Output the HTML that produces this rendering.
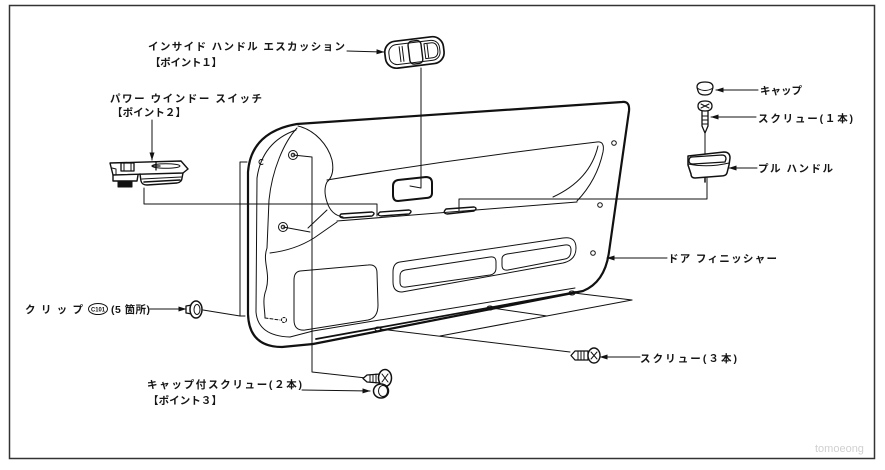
<!DOCTYPE html>
<html><head><meta charset="utf-8"><style>
html,body{margin:0;padding:0;background:#fff;}
svg{display:block;}
text{font-family:"Liberation Sans","Noto Sans CJK JP",sans-serif;font-size:10.5px;font-weight:700;fill:#151515;}
</style></head><body>
<svg width="885" height="470" viewBox="0 0 885 470" xmlns="http://www.w3.org/2000/svg">
<defs>
<marker id="a" markerWidth="8" markerHeight="6" refX="7.5" refY="3" orient="auto" markerUnits="userSpaceOnUse"><path d="M0,0.5 L8,3 L0,5.5 Z" fill="#111"/></marker>
</defs>
<rect width="885" height="470" fill="#fff"/>
<rect x="9.5" y="5.5" width="865" height="453" fill="none" stroke="#333" stroke-width="1.5"/>

<!-- labels -->
<text x="148" y="50" textLength="197" lengthAdjust="spacing">インサイド ハンドル エスカッション</text>
<text x="150" y="66" textLength="72" lengthAdjust="spacing">【ポイント１】</text>
<text x="110" y="102" textLength="152" lengthAdjust="spacing">パワー ウインドー スイッチ</text>
<text x="112" y="116" textLength="74" lengthAdjust="spacing">【ポイント２】</text>
<text x="25" y="313" textLength="58" lengthAdjust="spacing">クリップ</text>
<ellipse cx="98" cy="309" rx="9.5" ry="5.5" fill="none" stroke="#111" stroke-width="1"/>
<text x="91" y="311.5" textLength="14" lengthAdjust="spacingAndGlyphs" style="font-size:6px">C101</text>
<text x="111" y="313" textLength="39" lengthAdjust="spacing">(5 箇所)</text>
<text x="147" y="388" textLength="155" lengthAdjust="spacing">キャップ付スクリュー(２本)</text>
<text x="148" y="404" textLength="74" lengthAdjust="spacing">【ポイント３】</text>
<text x="760" y="94" textLength="42" lengthAdjust="spacing">キャップ</text>
<text x="758" y="122" textLength="95" lengthAdjust="spacing">スクリュー(１本)</text>
<text x="758" y="172" textLength="75" lengthAdjust="spacing">プル ハンドル</text>
<text x="668" y="262" textLength="109" lengthAdjust="spacing">ドア フィニッシャー</text>
<text x="640" y="362" textLength="97" lengthAdjust="spacing">スクリュー(３本)</text>
<text x="815" y="452" style="font-size:11px;font-weight:400;fill:#d0d0d0">tomoeong</text>

<g fill="none" stroke="#111" stroke-width="1" stroke-linejoin="round" stroke-linecap="round">
<!-- arrows -->
<line x1="347" y1="51" x2="384" y2="52" marker-end="url(#a)"/>
<line x1="152" y1="120" x2="152" y2="160" marker-end="url(#a)"/>
<line x1="150" y1="309" x2="186" y2="309" marker-end="url(#a)"/>
<line x1="302" y1="390" x2="370" y2="391" marker-end="url(#a)"/>
<line x1="758" y1="90" x2="716" y2="90" marker-end="url(#a)"/>
<line x1="756" y1="117" x2="711" y2="117" marker-end="url(#a)"/>
<line x1="757" y1="168" x2="729" y2="168" marker-end="url(#a)"/>
<line x1="667" y1="258" x2="607" y2="258" marker-end="url(#a)"/>
<line x1="640" y1="357" x2="600" y2="357" marker-end="url(#a)"/>

<!-- connectors -->
<path d="M421,68 L421,188 L410,186"/>
<path d="M144,188 L144,204 L377,204 L377,216"/>
<path d="M707,178 L707,199 L459,199 L459,211"/>
<path d="M705,132 L705,156"/>
<path d="M293,155 L312,157 L312,372 L366,378"/>
<path d="M283,227 L310,232"/>
<path d="M203,310 L240,316"/>
<path d="M247,162 L240,162 L240,316 L245,316"/>
<!-- phantom lines at bottom -->
<path d="M380,329 L570,352"/>
<path d="M440,336 L632,300"/>
<path d="M492,308 L547,316"/>
<path d="M574,293 L632,300"/>

<!-- door outer outline -->
<path stroke-width="2.2" d="M297,124 L622,102 Q630,101 629,111 L609,252 Q605,282 583,291 L313,344 L282,347 Q249,347 248,314 L248,172 Q251,132 297,124 Z"/>
<!-- inner thin bottom line -->
<path d="M313,331 L575,288"/>
<path stroke-width="1.8" d="M316,339 L576,292"/>
<!-- inner contour left -->
<path d="M296,130 Q262,142 257,178 L256,312 Q258,336 290,337 L313,331"/>
<!-- pillar left -->
<path d="M297,128 C284,142 272,170 269,200 L267,248 C262,262 271,272 266,290 C262,300 265,310 265,318"/>
<path d="M265,318 L280,320" stroke-dasharray="3,2"/>
<circle cx="284" cy="320" r="2.5" stroke-dasharray="2,1.5"/>
<!-- pillar right / armrest front -->
<path d="M298,126 C315,130 328,145 332,160 Q335,175 327,182 Q323,190 327,202 Q331,215 343,217"/>
<path d="M327,210 L308,228"/>
<path d="M337,222 L314,238 Q295,250 270,253"/>
<!-- armrest top line -->
<path d="M327,180 Q460,158 597,142"/>
<!-- pocket curves right -->
<path d="M597,142 Q605,141 603,152 Q597,180 577,201"/>
<path d="M598,146 Q590,180 553,197"/>
<!-- armrest bottom line -->
<path d="M337,221 L577,202"/>
<!-- slots -->
<path stroke-width="1.4" d="M341,214 L372,212 Q376,213 372,216 L343,218 Q338,217 341,214 Z"/>
<path stroke-width="1.4" d="M380,212 L409,210 Q413,211 409,214 L381,216 Q376,215 380,212 Z"/>
<path stroke-width="1.4" d="M446,209 L474,207 Q478,208 474,211 L447,214 Q442,213 446,209 Z"/>
<!-- inside handle recess -->
<path stroke-width="2" d="M398,180 L426,177 Q432,177 432,183 L432,193 Q432,198 426,198 L398,201 Q393,201 393,195 L393,186 Q393,181 398,180 Z"/>
<!-- holes -->
<circle cx="293" cy="155" r="4.5"/><circle cx="293" cy="155" r="1.8"/>
<circle cx="283" cy="227" r="4.5"/><circle cx="283" cy="227" r="1.8"/>
<path d="M263,160 A2.5,2.5 0 1 0 263,164"/>
<circle cx="614" cy="143" r="2.3"/>
<circle cx="600" cy="205" r="2.3"/>
<circle cx="593" cy="253" r="2.3"/>
<ellipse cx="378" cy="329" rx="3" ry="2"/>
<ellipse cx="490" cy="308" rx="3" ry="2"/>
<ellipse cx="572" cy="293" rx="3" ry="2"/>
<!-- map pocket left -->
<path d="M300,271 L368,265 Q377,264 377,273 L378,305 Q378,318 368,320 L305,330 Q294,331 294,320 L294,280 Q294,272 300,271 Z"/>
<!-- lower long pocket -->
<path d="M400,262 L563,238 Q576,236 576,248 Q576,260 563,263 L402,292 Q393,292 393,282 L393,272 Q393,263 400,262 Z"/>
<path d="M405,270 L490,257 Q496,256 496,262 L496,268 Q496,274 490,275 L406,287 Q400,288 400,282 L400,276 Q400,271 405,270 Z"/>
<path d="M507,254 L565,245 Q571,244 571,250 Q571,258 565,259 L508,270 Q502,271 502,265 L502,259 Q502,255 507,254 Z"/>

<!-- escutcheon -->
<g transform="rotate(-7 414 53)">
<rect x="385" y="39" width="59" height="27" rx="11" fill="#fff" stroke-width="1.7"/>
<rect x="389" y="42.5" width="51" height="20" rx="8"/>
<line x1="400" y1="45" x2="400" y2="60"/>
<line x1="403" y1="45" x2="403" y2="60"/>
<rect x="409" y="41" width="13" height="23" rx="4" stroke-width="1.4"/>
<path d="M425,45 h7 q6,0 6,7.5 q0,7.5 -6,7.5 h-7 z"/>
<line x1="428" y1="46" x2="428" y2="59"/>
</g>

<!-- power window switch -->
<path fill="#fff" stroke-width="1.4" d="M110,163 L181,161 L188,169 L183,173 L113,175 Z"/>
<path stroke-width="1.4" d="M113,175 L113,181 L137,181 L138,175"/>
<rect x="118" y="181" width="14" height="6" fill="#111"/>
<path stroke-width="1.4" d="M140,174 L141,181 Q142,185 147,185 L177,183 Q182,182 182,178 L183,173"/>
<path d="M142,179 L181,177"/>
<path d="M144,182 L180,180" stroke-width="1.6"/>
<rect x="121" y="163" width="13" height="8" stroke-width="1.3"/>
<path d="M124,163 L124,171 M131,163 L131,171"/>
<ellipse cx="166" cy="166" rx="14" ry="2.3"/>
<path d="M156,162 L156,170 M152,166 L160,166" stroke-width="1.3"/>
<path d="M112,168 L116,169 L116,175"/>

<!-- cap -->
<path fill="#fff" stroke-width="1.3" d="M697,87 Q697,82 705,82 Q713,82 713,87 L712,91 Q711,95 705,95 Q699,95 698,91 Z"/>
<path d="M697,88 Q705,93 713,88"/>
<!-- screw 1 -->
<path fill="#fff" stroke-width="1.3" d="M698,106 Q698,101 705,101 Q712,101 712,106 Q712,111 705,111 Q698,111 698,106 Z"/>
<path d="M701,104 L709,108 M709,104 L701,108"/>
<path stroke-width="1.3" d="M702,111 L702,126 L705,133 L708,126 L708,111"/>
<path d="M702,116 L708,116 M702,120 L708,120 M702,124 L708,124"/>
<!-- pull handle -->
<path fill="#fff" stroke-width="1.5" d="M688,156 L724,152 Q730,152 730,158 L729,165 L727,173 Q726,176 721,176 L695,178 Q691,178 691,174 L688,165 Z"/>
<path stroke-width="1.3" d="M692,157 L722,155 Q726,155 726,159 L725,162 L693,164 Q689,164 689,161 Q689,157 692,157 Z"/>
<path d="M688,164 Q708,168 729,163"/>
<path d="M705,178 L705,182" stroke-width="1.5"/>

<!-- screw 3 -->
<path fill="#fff" stroke-width="1.3" d="M575,351 L588,351 L588,360 L575,360 L571,355.5 Z"/>
<path d="M578,351 L578,360 M581,351 L581,360 M584,351 L584,360"/>
<ellipse cx="594" cy="355.5" rx="6" ry="7.5" fill="#fff" stroke-width="1.4"/>
<path d="M591,352 L597,359 M597,352 L591,359"/>

<!-- clip -->
<path fill="#fff" stroke-width="1.3" d="M186,306 L192,305 L192,314 L186,313 Z"/>
<ellipse cx="196" cy="309.5" rx="6" ry="8.5" fill="#fff" stroke-width="1.5"/>
<ellipse cx="197" cy="309.5" rx="3" ry="5"/>

<!-- cap screws -->
<path fill="#fff" stroke-width="1.3" d="M367,375 L380,374 L380,383 L367,382 L363,378.5 Z"/>
<path d="M370,375 L370,382 M373,375 L373,382 M376,374 L376,383"/>
<ellipse cx="385" cy="378" rx="6.5" ry="8.5" fill="#fff" stroke-width="1.5"/>
<path d="M382,374 L388,382 M388,374 L382,382"/>
<ellipse cx="381" cy="391" rx="7.5" ry="7" fill="#fff" stroke-width="1.5"/>
<ellipse cx="383" cy="391" rx="4.5" ry="5.5"/>
</g>
</svg>
</body></html>
